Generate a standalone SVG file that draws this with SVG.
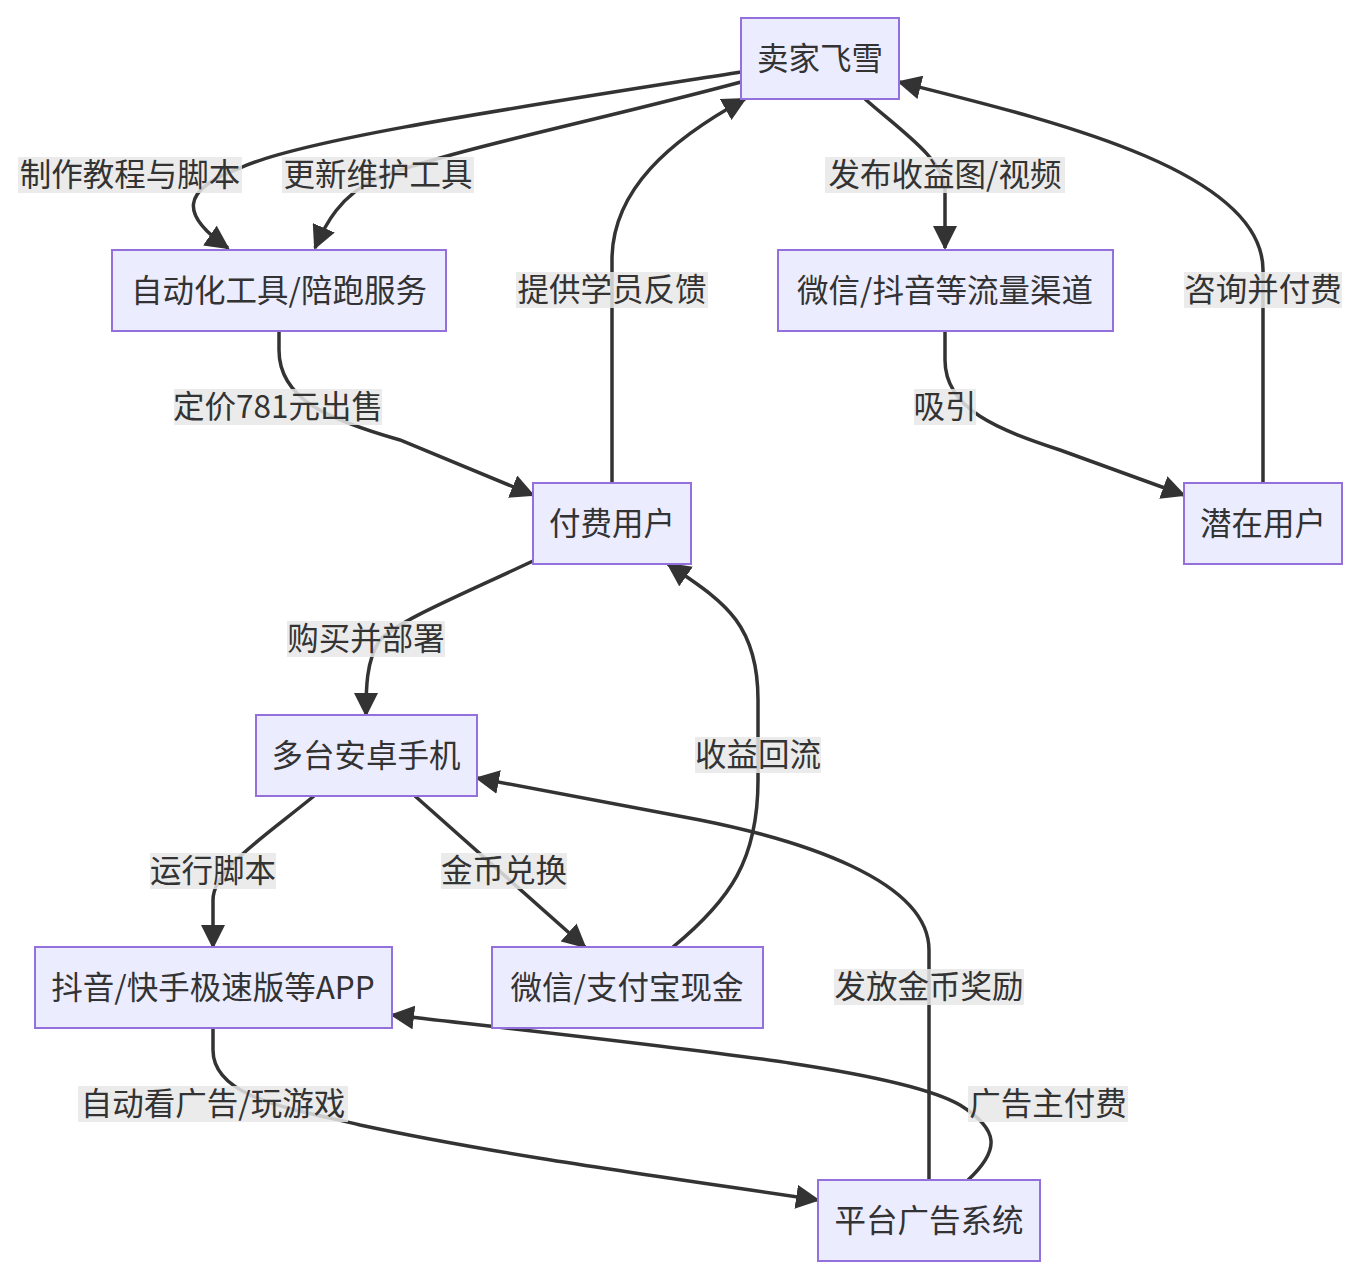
<svg xmlns="http://www.w3.org/2000/svg" width="1360" height="1278" viewBox="0 0 1360 1278">
<style>
.n text,.l text{font-family:"Noto Sans CJK SC","Noto Sans",sans-serif;font-size:31.5px;fill:#333;text-anchor:middle;dominant-baseline:central}
.n rect{fill:#ECECFF;stroke:#9370DB;stroke-width:2}
.e path{fill:none;stroke:#333;stroke-width:3.5}
.l rect{fill:#E8E8E8;opacity:0.85}
</style>
<defs>
<marker id="m" viewBox="0 0 12 12" refX="11" refY="6" markerWidth="24" markerHeight="24" orient="auto" markerUnits="userSpaceOnUse"><path d="M0,0L12,6L0,12z" fill="#333"/></marker></defs>
<g class="e">
<path marker-end="url(#m)" d="M741,72 C500,110 300,140 240,168 C180,190 180,215 228,248"/>
<path marker-end="url(#m)" d="M741,82 C600,120 450,150 378,178 C340,195 325,225 315,248"/>
<path marker-end="url(#m)" d="M865,99 C900,130 945,160 945,190 L945,248"/>
<path marker-end="url(#m)" d="M279,331 L279,350 C279,400 330,420 400,440 L533,495"/>
<path marker-end="url(#m)" d="M612,483 L612,260 C612,190 670,140 745,99"/>
<path marker-end="url(#m)" d="M945,331 L945,360 C945,410 1000,430 1060,450 L1184,495"/>
<path marker-end="url(#m)" d="M1263,483 L1263,270 C1263,170 1050,120 899,82"/>
<path marker-end="url(#m)" d="M533,561 C450,600 400,620 380,640 C366,660 366,690 366,715"/>
<path marker-end="url(#m)" d="M314,796 C260,840 213,870 213,900 L213,947"/>
<path marker-end="url(#m)" d="M415,796 L585,947"/>
<path marker-end="url(#m)" d="M673,947 C730,900 758,860 758,780 L758,700 C758,620 720,600 668,564"/>
<path marker-end="url(#m)" d="M213,1028 L213,1050 C213,1100 300,1110 360,1125 C500,1155 650,1175 818,1200"/>
<path marker-end="url(#m)" d="M929,1180 L929,950 C929,880 800,840 700,820 L477,778"/>
<path marker-end="url(#m)" d="M968,1180 C1000,1150 1000,1130 960,1105 C900,1070 700,1050 392,1015"/>
</g>
<g class="l">
<g><rect x="18" y="157" width="224" height="36"/><text x="130" y="172">制作教程与脚本</text></g>
<g><rect x="282" y="157" width="192" height="36"/><text x="378" y="172">更新维护工具</text></g>
<g><rect x="825" y="157" width="240" height="36"/><text x="945" y="172">发布收益图/视频</text></g>
<g><rect x="174" y="389" width="208" height="36"/><text x="278" y="404">定价781元出售</text></g>
<g><rect x="516" y="272" width="192" height="36"/><text x="612" y="287">提供学员反馈</text></g>
<g><rect x="914" y="389" width="62" height="36"/><text x="945" y="404">吸引</text></g>
<g><rect x="1184" y="272" width="158" height="36"/><text x="1263" y="287">咨询并付费</text></g>
<g><rect x="287" y="621" width="158" height="36"/><text x="366" y="636">购买并部署</text></g>
<g><rect x="150" y="853" width="126" height="36"/><text x="213" y="868">运行脚本</text></g>
<g><rect x="441" y="853" width="126" height="36"/><text x="504" y="868">金币兑换</text></g>
<g><rect x="695" y="737" width="126" height="36"/><text x="758" y="752">收益回流</text></g>
<g><rect x="78" y="1086" width="270" height="36"/><text x="213" y="1101">自动看广告/玩游戏</text></g>
<g><rect x="834" y="969" width="190" height="36"/><text x="929" y="984">发放金币奖励</text></g>
<g><rect x="968" y="1086" width="160" height="36"/><text x="1048" y="1101">广告主付费</text></g>
</g>
<g id="n1" class="n"><rect x="741" y="18" width="158" height="81"/><text x="820" y="56">卖家飞雪</text></g>
<g id="n2" class="n"><rect x="112" y="250" width="334" height="81"/><text x="279" y="288">自动化工具/陪跑服务</text></g>
<g id="n3" class="n"><rect x="778" y="250" width="335" height="81"/><text x="945" y="288">微信/抖音等流量渠道</text></g>
<g id="n4" class="n"><rect x="533" y="483" width="158" height="81"/><text x="612" y="521">付费用户</text></g>
<g id="n5" class="n"><rect x="1184" y="483" width="158" height="81"/><text x="1263" y="521">潜在用户</text></g>
<g id="n6" class="n"><rect x="256" y="715" width="221" height="81"/><text x="366" y="753">多台安卓手机</text></g>
<g id="n7" class="n"><rect x="35" y="947" width="357" height="81"/><text x="213" y="985">抖音/快手极速版等APP</text></g>
<g id="n8" class="n"><rect x="492" y="947" width="271" height="81"/><text x="627" y="985">微信/支付宝现金</text></g>
<g id="n9" class="n"><rect x="818" y="1180" width="222" height="81"/><text x="929" y="1218">平台广告系统</text></g>
</svg>
